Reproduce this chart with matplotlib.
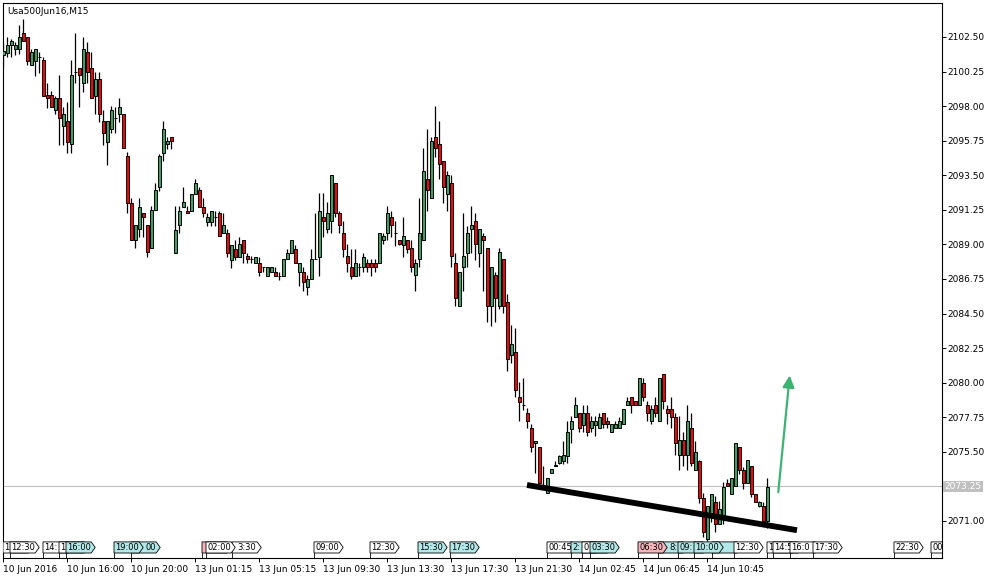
import matplotlib
matplotlib.use('Agg')
import matplotlib.pyplot as plt
from matplotlib.patches import Polygon
from matplotlib.transforms import blended_transform_factory

# M15 bars
opens = [2101.3, 2101.48, 2101.96, 2101.70, 2101.70, 2102.74, 2102.48, 2100.70, 2100.96, 2101.22,
         2101.0, 2098.7, 2098.70, 2097.75, 2098.51, 2096.71, 2097.03, 2095.53, 2100.2, 2100.46,
         2099.49, 2101.5, 2100.46, 2098.66, 2099.77, 2097.03, 2095.69, 2096.49, 2097.21, 2097.49,
         2097.49, 2094.75, 2091.71, 2089.29, 2089.98, 2091.03, 2090.26, 2088.75, 2091.24, 2092.72,
         2094.97, 2095.52, 2096.0, 2088.43, 2090.24, 2091.46, 2091.2, 2091.2, 2092.26, 2092.54,
         2091.46, 2090.48, 2090.48, 2090.77, 2091.03, 2089.72, 2089.72, 2087.99, 2088.73, 2088.2,
         2089.29, 2088.25, 2088.03, 2087.77, 2087.77, 2087.5, 2086.97, 2087.23, 2087.23, 2086.97,
         2086.97, 2088.03, 2088.46, 2088.73, 2087.23, 2087.23, 2086.25, 2086.73, 2088.03, 2088.2,
         2090.77, 2089.98, 2090.5, 2092.98, 2091.03, 2089.72, 2088.25, 2087.5, 2086.97, 2087.5,
         2087.5, 2087.77, 2087.77, 2087.77, 2087.77, 2089.29, 2089.72, 2090.77, 2089.72, 2089.29,
         2088.99, 2089.29, 2088.75, 2086.99, 2088.03, 2089.29, 2093.24, 2092.0, 2095.97, 2095.54,
         2094.45, 2092.26, 2092.98, 2087.77, 2085.01, 2087.51, 2088.46, 2090.0, 2090.5, 2088.46,
         2089.55, 2088.75, 2085.01, 2086.99, 2085.01, 2088.03, 2085.23, 2081.77, 2082.02, 2079.05,
         2078.55, 2078.0, 2077.03, 2076.05, 2075.79, 2073.3, 2072.8, 2074.11, 2074.6, 2074.76,
         2074.9, 2075.24, 2077.0, 2077.75, 2078.0, 2077.25, 2078.0, 2077.03, 2077.25, 2077.03,
         2078.0, 2077.53, 2076.77, 2077.03, 2077.03, 2077.3, 2078.55, 2079.05, 2078.8, 2078.55,
         2080.0, 2078.55, 2077.53, 2078.55, 2077.53, 2080.57, 2078.27, 2078.27, 2077.75, 2075.29,
         2076.27, 2075.29, 2077.03, 2074.3, 2074.9, 2072.5, 2069.81, 2071.54, 2072.26, 2070.8,
         2071.33, 2073.5, 2072.76, 2073.28, 2075.79, 2074.3, 2073.5, 2074.58, 2072.76, 2071.98,
         2071.98, 2071.03]
highs = [2102.1, 2102.48, 2102.35, 2102.2, 2103.26, 2103.7, 2102.48, 2101.70, 2101.70, 2101.55,
         2101.22, 2099.5, 2098.97, 2098.66, 2100.03, 2097.96, 2098.27, 2101.0, 2102.74, 2100.46,
         2102.48, 2102.2, 2101.55, 2100.2, 2100.2, 2097.75, 2097.03, 2098.01, 2097.96, 2098.51,
         2097.5, 2095.03, 2092.0, 2090.26, 2092.0, 2091.03, 2090.26, 2091.5, 2092.98, 2094.9,
         2097.05, 2096.0, 2096.0, 2091.5, 2091.5, 2092.72, 2091.5, 2092.3, 2093.26, 2092.72,
         2092.0, 2091.03, 2091.2, 2091.2, 2091.2, 2091.03, 2089.98, 2088.97, 2089.29, 2089.5,
         2089.29, 2088.46, 2088.25, 2088.2, 2088.2, 2087.5, 2087.5, 2087.5, 2087.5, 2087.23,
         2088.03, 2088.73, 2089.29, 2088.97, 2087.77, 2087.5, 2087.0, 2088.73, 2091.03, 2092.33,
         2092.33, 2091.74, 2093.5, 2092.98, 2091.2, 2090.5, 2089.0, 2088.73, 2088.73, 2087.77,
         2088.46, 2088.03, 2088.03, 2088.03, 2089.72, 2089.72, 2091.5, 2091.2, 2090.5, 2089.29,
         2090.77, 2089.29, 2089.29, 2088.03, 2092.0, 2095.26, 2096.49, 2095.97, 2098.01, 2097.03,
         2094.45, 2093.78, 2093.52, 2088.46, 2087.23, 2091.03, 2090.2, 2091.5, 2091.03, 2089.98,
         2089.72, 2088.75, 2087.51, 2087.23, 2088.75, 2088.03, 2085.77, 2083.76, 2083.54, 2080.07,
         2080.28, 2078.33, 2077.31, 2076.23, 2075.79, 2074.6, 2073.78, 2074.4, 2074.9, 2075.3,
         2076.2, 2077.5, 2077.8, 2079.05, 2078.0, 2078.55, 2078.55, 2077.8, 2077.8, 2078.0,
         2078.0, 2077.75, 2077.3, 2077.53, 2077.75, 2078.27, 2079.05, 2079.05, 2078.8, 2080.28,
         2080.28, 2078.8, 2078.55, 2079.05, 2080.28, 2080.57, 2078.55, 2079.05, 2078.0, 2077.8,
         2076.8, 2078.55, 2078.0, 2076.2, 2075.0, 2072.8, 2071.98, 2072.76, 2072.6, 2072.3,
         2073.56, 2073.76, 2073.78, 2076.05, 2075.79, 2074.5, 2075.0, 2074.58, 2072.76, 2072.3,
         2072.26, 2073.78]
lows = [2100.5, 2101.22, 2101.22, 2101.33, 2101.39, 2102.22, 2100.68, 2100.70, 2099.96, 2100.18,
        2098.66, 2097.9, 2097.92, 2097.49, 2095.47, 2095.47, 2094.97, 2094.97, 2099.5, 2097.96,
        2098.94, 2099.49, 2098.51, 2097.49, 2096.99, 2095.47, 2094.17, 2096.23, 2096.23, 2096.99,
        2095.26, 2091.03, 2089.29, 2088.75, 2089.5, 2089.5, 2088.2, 2088.75, 2091.24, 2092.5,
        2094.45, 2095.2, 2095.23, 2088.43, 2089.72, 2091.46, 2091.03, 2091.2, 2092.26, 2091.46,
        2090.77, 2090.22, 2090.22, 2090.22, 2089.53, 2089.72, 2088.2, 2087.45, 2087.99, 2088.2,
        2087.77, 2087.77, 2087.77, 2087.77, 2086.97, 2087.23, 2086.97, 2087.23, 2086.97, 2086.69,
        2086.97, 2088.03, 2088.46, 2087.77, 2086.26, 2085.97, 2085.71, 2086.73, 2088.03, 2086.97,
        2089.5, 2089.72, 2089.72, 2090.77, 2089.72, 2088.2, 2087.23, 2086.73, 2086.97, 2086.97,
        2087.23, 2087.23, 2086.97, 2087.23, 2087.77, 2089.0, 2089.29, 2089.5, 2088.9, 2088.99,
        2088.2, 2088.46, 2087.23, 2085.99, 2087.51, 2089.29, 2091.2, 2092.0, 2094.71, 2093.24,
        2091.71, 2091.2, 2087.51, 2085.01, 2085.01, 2085.99, 2087.51, 2088.46, 2087.99, 2087.51,
        2085.99, 2083.97, 2083.69, 2083.97, 2084.77, 2084.51, 2080.78, 2081.26, 2079.05, 2077.53,
        2078.22, 2077.03, 2075.5, 2074.11, 2073.49, 2073.2, 2072.8, 2074.1, 2074.55, 2074.7,
        2074.7, 2074.76, 2076.1, 2077.75, 2076.77, 2076.77, 2076.55, 2076.77, 2076.55, 2077.03,
        2077.03, 2077.03, 2076.77, 2077.03, 2077.03, 2077.3, 2078.55, 2078.0, 2078.55, 2078.55,
        2078.8, 2077.53, 2077.3, 2077.75, 2077.53, 2078.27, 2077.3, 2077.03, 2075.29, 2074.3,
        2074.55, 2074.3, 2074.55, 2074.3, 2072.2, 2069.98, 2069.7, 2070.96, 2070.3, 2070.8,
        2070.8, 2073.28, 2072.76, 2073.28, 2074.05, 2073.05, 2073.5, 2072.54, 2072.26, 2071.9,
        2070.8, 2070.52]
closes = [2101.6, 2101.98, 2102.22, 2102.0, 2102.48, 2102.22, 2100.96, 2101.50, 2101.70, 2101.22,
          2098.66, 2098.5, 2097.96, 2098.51, 2097.21, 2097.49, 2095.69, 2100.03, 2100.2, 2100.0,
          2101.70, 2100.2, 2098.51, 2099.77, 2097.49, 2096.23, 2097.03, 2097.75, 2097.21, 2097.96,
          2095.26, 2091.71, 2089.29, 2090.26, 2091.45, 2090.77, 2088.53, 2091.24, 2092.54, 2094.75,
          2096.51, 2095.73, 2095.73, 2089.95, 2091.20, 2091.74, 2091.03, 2092.26, 2092.98, 2091.46,
          2091.03, 2090.77, 2091.2, 2090.77, 2089.53, 2090.24, 2088.46, 2088.97, 2088.2, 2089.0,
          2088.46, 2088.03, 2088.03, 2088.2, 2087.23, 2087.5, 2087.5, 2087.5, 2086.97, 2086.97,
          2088.03, 2088.46, 2089.29, 2087.77, 2087.77, 2086.54, 2086.73, 2088.03, 2088.03, 2091.2,
          2090.5, 2091.03, 2093.5, 2091.03, 2090.24, 2088.73, 2087.77, 2086.97, 2087.77, 2087.5,
          2088.2, 2087.5, 2087.5, 2087.5, 2089.72, 2089.55, 2091.03, 2090.24, 2089.72, 2089.0,
          2089.55, 2088.73, 2087.51, 2087.77, 2089.72, 2093.78, 2092.54, 2095.73, 2095.26, 2094.21,
          2092.72, 2093.52, 2088.25, 2085.49, 2087.23, 2088.25, 2089.72, 2090.24, 2089.0, 2089.98,
          2089.29, 2085.01, 2087.51, 2085.49, 2088.49, 2085.01, 2081.53, 2082.5, 2079.52, 2078.77,
          2078.55, 2077.53, 2075.79, 2076.23, 2073.49, 2073.3, 2073.78, 2074.37, 2074.67, 2075.24,
          2075.3, 2076.82, 2077.53, 2078.55, 2077.03, 2078.0, 2076.77, 2077.53, 2077.53, 2077.75,
          2077.3, 2077.3, 2077.3, 2077.3, 2077.53, 2078.27, 2078.8, 2078.55, 2078.55, 2080.28,
          2079.05, 2078.0, 2078.27, 2078.0, 2080.28, 2078.8, 2078.0, 2077.75, 2076.05, 2076.27,
          2075.29, 2077.53, 2074.76, 2075.5, 2072.5, 2070.27, 2071.98, 2072.76, 2070.8, 2071.76,
          2073.24, 2073.28, 2073.78, 2076.05, 2074.3, 2073.5, 2075.0, 2072.76, 2072.26, 2072.26,
          2071.03, 2073.24]

x_ticks = [0, 16, 32, 48, 64, 80, 96, 112, 128, 144, 160, 176]
x_labels = ['10 Jun 2016', '10 Jun 16:00', '10 Jun 20:00', '13 Jun 01:15', '13 Jun 05:15',
            '13 Jun 09:30', '13 Jun 13:30', '13 Jun 17:30', '13 Jun 21:30', '14 Jun 02:45',
            '14 Jun 06:45', '14 Jun 10:45']
price_ticks = [2071.00, 2073.25, 2075.50, 2077.75, 2080.00, 2082.25, 2084.50, 2086.75,
               2089.00, 2091.25, 2093.50, 2095.75, 2098.00, 2100.25, 2102.50]
last_price = 2073.25

# event labels along the bottom: bar position, visible text, fill, text shift (bars)
# drawn in this order, later ones cover earlier ones like in the terminal
events = [(-0.1, '1', 'w', 0), (1.65, '12:30', 'w', 0), (9.9, '14:', 'w', 0), (13.9, '1', 'w', 0),
          (15.65, '16:00', 'c', 0), (31.9, '00', 'c', 3.3), (27.65, '19:00', 'c', 0),
          (49.65, '', 'p', 0), (57.15, '3:30', 'w', 0.9), (50.65, '02:00', 'w', 0),
          (77.65, '09:00', 'w', 0), (91.65, '12:30', 'w', 0), (103.65, '15:30', 'c', 0),
          (111.65, '17:30', 'c', 0),
          (135.9, '00:45', 'w', 0), (141.9, '2:', 'c', 0), (144.65, '0', 'w', 0),
          (146.65, '03:30', 'c', 0),
          (163.65, '8:', 'c', 2.4), (158.65, '06:30', 'p', 0), (168.65, '09:', 'c', 0),
          (177.15, '', 'c', 0), (172.65, '10:00', 'c', 0), (182.65, '12:30', 'w', 0),
          (190.9, '1', 'w', 0), (192.4, '14:5', 'w', 0), (196.65, '16:0', 'w', 0),
          (202.4, '17:30', 'w', 0), (222.65, '22:30', 'w', 0), (231.9, '00', 'w', 0)]
fills = {'w': 'white', 'c': '#b2e8e8', 'p': '#f4b4bc'}

trend_x = [130.9, 198.4]
trend_y = [2073.34, 2070.40]
arrow_x = [193.65, 196.65]
arrow_y = [2072.69, 2080.65]

bull = '#33a466'
bear = '#ff0000'

fig = plt.figure(figsize=(9.95, 5.79), dpi=100)
ax = fig.add_axes([3 / 995, 21 / 579, 939 / 995, 555 / 579])
ax.set_xlim(-0.1, 234.65)
ax.set_ylim(2068.59, 2104.71)

ax.axhline(last_price, color='#c0c0c0', lw=0.8, zorder=1)

for i in range(len(opens)):
    o, h, l, c = opens[i], highs[i], lows[i], closes[i]
    ax.vlines(i, l, h, color='black', lw=0.9, zorder=2)
    if c > o:
        fc = bull
    elif c < o:
        fc = bear
    else:
        fc = 'black'
    ax.bar(i, abs(c - o), bottom=min(o, c), width=0.6, color=fc,
           edgecolor='black', linewidth=0.7, zorder=3)

# trend line and arrow
ax.plot(trend_x, trend_y, color='black', lw=4.2, solid_capstyle='butt', zorder=5)
ax.annotate('', xy=(arrow_x[1], arrow_y[1]), xytext=(arrow_x[0], arrow_y[0]),
            arrowprops=dict(arrowstyle='-|>,head_length=0.7,head_width=0.35',
                            color='#3cb371', lw=1.6), zorder=5)

# event boxes
tr = blended_transform_factory(ax.transData, ax.transAxes)
yb, yt = 0.009, 0.029
for k, (x0, txt, f, shift) in enumerate(events):
    z = 6 + k * 0.01
    poly = Polygon([(x0, yb), (x0 + 6.3, yb), (x0 + 7.3, (yb + yt) / 2), (x0 + 6.3, yt), (x0, yt)],
                   closed=True, facecolor=fills[f], edgecolor='black', lw=0.6,
                   transform=tr, zorder=z, clip_on=True)
    ax.add_patch(poly)
    ax.plot([x0, x0], [0, yb], color='black', lw=0.6, transform=tr, zorder=z)
    if txt:
        ax.text(x0 + 0.35 + shift, (yb + yt) / 2, txt, transform=tr, fontsize=6,
                va='center', ha='left', zorder=z + 0.005, clip_on=True)

ax.text(0.004, 0.992, 'Usa500Jun16,M15', transform=ax.transAxes, fontsize=6.5,
        va='top', ha='left')

# axes styling
for s in ax.spines.values():
    s.set_color('black')
    s.set_linewidth(0.8)
ax.yaxis.tick_right()
ax.set_yticks(price_ticks)
ax.set_yticklabels([f'{p:.2f}' if p != last_price else '' for p in price_ticks])
ax.tick_params(axis='y', direction='out', length=3, width=0.7, labelsize=6.5, pad=1)
ax.set_xticks(x_ticks)
ax.set_xticklabels(x_labels)
for lab in ax.get_xticklabels():
    lab.set_horizontalalignment('left')
ax.tick_params(axis='x', direction='out', length=3, width=0.7, labelsize=6.5, pad=2)

ytr = blended_transform_factory(ax.transAxes, ax.transData)
ax.text(1.003, last_price, f'{last_price:.2f}', transform=ytr, fontsize=6.5, color='white',
        va='center', ha='left',
        bbox=dict(boxstyle='square,pad=0.15', facecolor='#c0c0c0', edgecolor='none'))

fig.savefig('out.png', dpi=100)
